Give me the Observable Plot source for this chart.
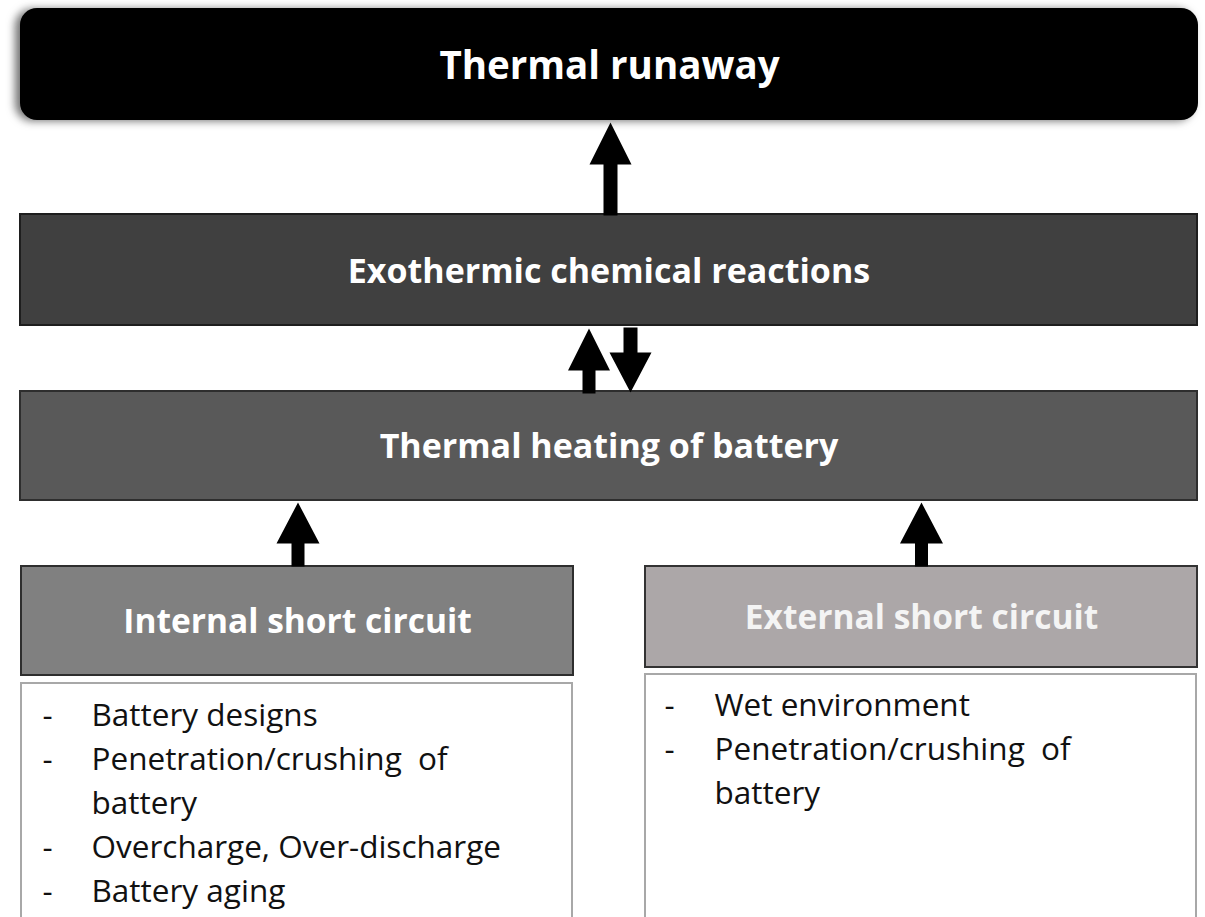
<!DOCTYPE html>
<html>
<head>
<meta charset="utf-8">
<script src="https://cdn.jsdelivr.net/npm/d3@7"></script>
<script src="https://cdn.jsdelivr.net/npm/@observablehq/plot@0.6"></script>
<style>
  html, body { margin: 0; padding: 0; background: #fff; }
  #chart svg { display: block; }
</style>
</head>
<body>
<div id="chart"></div>
<script>
// ---- data ----
const nodeLabels = ["Thermal runaway", "Exothermic chemical reactions", "Thermal heating of battery", "Internal short circuit", "External short circuit"];
const nodeX1 = [20, 20, 20, 21, 645];
const nodeX2 = [1198, 1197, 1197, 573, 1197];
const nodeY1 = [8, 214, 391, 566, 566];
const nodeY2 = [120, 325, 500, 675, 667];
const nodeFill = ["#000000", "#404040", "#595959", "#808080", "#aca7a8"];
const nodeStroke = ["#000000", "#1e1e1e", "#2e2e2e", "#2e2e2e", "#333333"];
const nodeTextColor = ["#ffffff", "#ffffff", "#ffffff", "#ffffff", "#f4f4f4"];
const nodeTextY = [66, 272, 447, 622, 618];
const nodeFontSize = [38.5, 34, 34, 33.5, 33.5];

const internalCauses = [["Battery designs"], ["Penetration/crushing\u00a0\u00a0of", "battery"], ["Overcharge, Over-discharge"], ["Battery aging"]];
const externalCauses = [["Wet environment"], ["Penetration/crushing\u00a0\u00a0of", "battery"]];

const listX1 = [21, 645];
const listX2 = [572, 1196];
const listY1 = [683, 674];
const listDashX = [42, 664];
const listTextX = [91, 714];
const listFirstY = [715, 705];
const listStep = 44;

// arrows: center x, tip y, base y, head length, head half width, shaft half width
const arrowCx   = [610, 588.5, 630, 297.5, 921];
const arrowTip  = [122, 328, 392, 502, 502];
const arrowBase = [215, 393, 327, 566, 566];
const arrowHead = [42, 42, 40, 41, 41];
const arrowHW   = [21, 21, 21, 21.5, 21.5];
const arrowSW   = [7, 6.5, 7, 6.5, 6.5];

// ---- build tables ----
const nodes = nodeLabels.map((label, i) => ({
  label, x1: nodeX1[i], x2: nodeX2[i], y1: nodeY1[i], y2: nodeY2[i],
  fill: nodeFill[i], stroke: nodeStroke[i], color: nodeTextColor[i],
  cx: (nodeX1[i] + nodeX2[i]) / 2, ty: nodeTextY[i], fs: nodeFontSize[i]
}));

const lists = [internalCauses, externalCauses];
const listBoxes = lists.map((_, i) => ({x1: listX1[i], x2: listX2[i], y1: listY1[i], y2: 940}));
const dashes = [], lines = [];
lists.forEach((items, li) => {
  let row = 0;
  items.forEach(item => {
    dashes.push({x: listDashX[li], y: listFirstY[li] + row * listStep, t: "-"});
    item.forEach(line => {
      lines.push({x: listTextX[li], y: listFirstY[li] + row * listStep, t: line});
      row++;
    });
  });
});

const arrowPts = [];
arrowCx.forEach((cx, i) => {
  const tip = arrowTip[i], base = arrowBase[i];
  const dir = Math.sign(base - tip);
  const hy = tip + dir * arrowHead[i];
  const hw = arrowHW[i], sw = arrowSW[i];
  [[cx, tip], [cx + hw, hy], [cx + sw, hy], [cx + sw, base], [cx - sw, base], [cx - sw, hy], [cx - hw, hy]]
    .forEach(([x, y]) => arrowPts.push({id: i, x, y}));
});

const W = 1205, H = 917;
const chart = Plot.plot({
  width: W, height: H, margin: 0,
  x: {domain: [0, W], range: [0, W], axis: null},
  y: {domain: [0, H], range: [0, H], axis: null},
  style: {background: "#ffffff", overflow: "hidden"},
  marks: [
    Plot.rect(listBoxes, {x1: "x1", x2: "x2", y1: "y1", y2: "y2", fill: "#ffffff", stroke: "#a8a8a8", strokeWidth: 2}),
    Plot.rect(nodes.slice(0, 1), {x1: "x1", x2: "x2", y1: "y1", y2: "y2", fill: "fill", rx: 17}),
    Plot.rect(nodes.slice(1), {x1: "x1", x2: "x2", y1: "y1", y2: "y2", fill: "fill", stroke: "stroke", strokeWidth: 2}),
    Plot.line(arrowPts, {x: "x", y: "y", z: "id", fill: "#000000", stroke: "none", curve: "linear-closed"}),
    ...nodes.map(n => Plot.text([n], {x: "cx", y: "ty", text: "label", fill: "color", fontSize: n.fs, fontWeight: "bold", fontFamily: "Open Sans"})),
    Plot.text(dashes, {x: "x", y: "y", text: "t", fill: "#111", fontSize: 31.5, fontFamily: "Open Sans", textAnchor: "start"}),
    Plot.text(lines, {x: "x", y: "y", text: "t", fill: "#111", fontSize: 31.5, fontFamily: "Open Sans", textAnchor: "start"})
  ]
});
document.getElementById("chart").appendChild(chart);

// soft shadow behind the top rounded box
d3.select(chart).selectAll("rect").filter(function() { return this.hasAttribute("rx"); })
  .style("filter", "drop-shadow(-5px 1px 4px rgba(90,90,90,0.85))");
</script>
</body>
</html>
